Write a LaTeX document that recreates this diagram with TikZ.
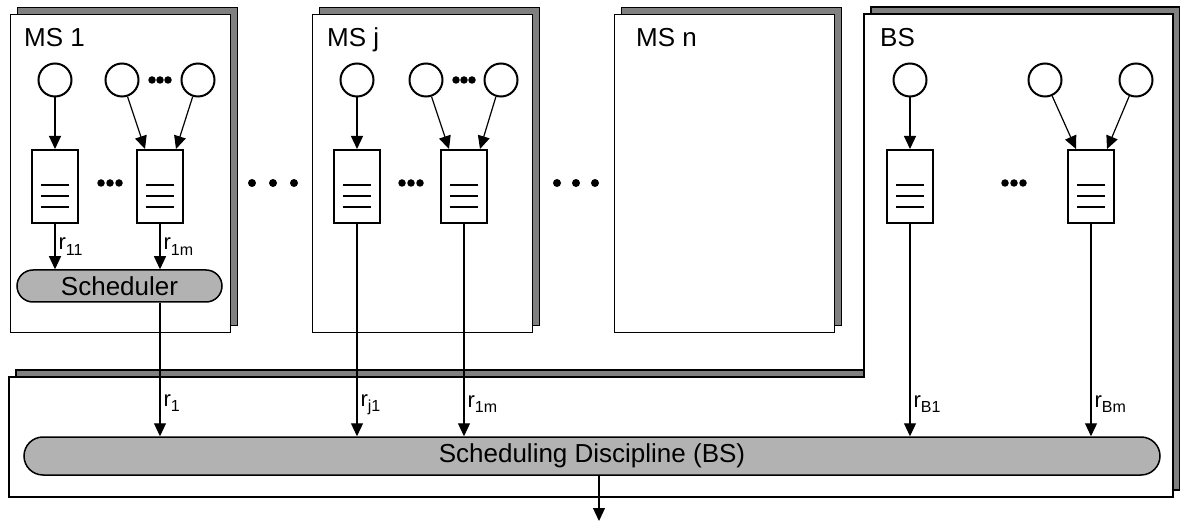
\documentclass[tikz,border=0pt]{standalone}
\usepackage{fontspec}
\setmainfont{Liberation Sans}
\usetikzlibrary{arrows.meta,shapes.misc,shadows}

\definecolor{shade}{gray}{0.5}
\definecolor{pillgray}{gray}{0.7}

% rate label with a lowered index
\newcommand\rlab[1]{r\raisebox{-0.45ex}{\fontsize{16}{16}\selectfont #1}}

\tikzset{
  >={Triangle[length=13pt,width=12pt]},
  frame/.style={draw,line width=1.3pt,fill=white,
    general shadow={shadow xshift=7pt,shadow yshift=7pt,fill=shade,draw=black,line width=1.3pt}},
  msbox/.style={frame,anchor=north west,minimum width=220pt,minimum height=318pt,inner sep=0pt},
  src/.style={circle,draw,line width=2pt,minimum size=33pt,inner sep=0pt},
  queue/.style={draw,line width=2pt,fill=white,minimum width=46pt,minimum height=73pt,inner sep=0pt,
    path picture={
      \foreach \dy in {1.5,-9.5,-20.5}
        \draw[line width=2pt] ([xshift=-14pt,yshift=\dy pt]path picture bounding box.center) -- ++(28,0);
    }},
  dot/.style={circle,fill,inner sep=0pt,minimum size=7.5pt},
  bigdot/.style={circle,fill,inner sep=0pt,minimum size=8pt},
  sched/.style={rounded rectangle,draw,line width=1.5pt,fill=pillgray,inner sep=0pt,
    font=\fontsize{26}{30}\selectfont},
  title/.style={anchor=base west,inner sep=0pt,font=\fontsize{26}{30}\selectfont},
  rate/.style={right,inner sep=3pt,font=\fontsize{22}{26}\selectfont},
  flow/.style={->,line width=1.2pt},
}

\begin{document}
\begin{tikzpicture}[x=1pt,y=-1pt]
  \useasboundingbox (0,0) rectangle (1180,526);

  % base station frame (column plus bottom strip)
  \draw[frame] (864,14) -- (1173,14) -- (1173,497) -- (9,497) -- (9,377) -- (864,377) -- cycle;

  % mobile stations
  \node[msbox] at (10,14)(ms1){};
  \node[msbox] at (312,14)(msj){};
  \node[msbox] at (614,14)(msn){};

  \node[title] at (24,47)(t1){MS 1};
  \node[title] at (327,47)(tj){MS j};
  \node[title] at (636,47)(tn){MS n};
  \node[title] at (880,47)(tb){BS};

  % MS 1
  \node[src] at (55,80)(s11){};
  \node[src] at (122,80)(s12){};
  \node[src] at (198,80)(s13){};
  \node[dot] at (152,80)(d11){};
  \node[dot] at (160,80)(d12){};
  \node[dot] at (168,80)(d13){};
  \node[queue] at (55,186.5)(q11){};
  \node[queue] at (160,186.5)(q12){};
  \node[dot] at (101,183)(e11){};
  \node[dot] at (110,183)(e12){};
  \node[dot] at (119,183)(e13){};
  \node[sched,minimum width=205pt,minimum height=32pt] at (119.5,286)(sch){Scheduler};

  % MS j
  \node[src] at (357,80)(s21){};
  \node[src] at (426,80)(s22){};
  \node[src] at (501,80)(s23){};
  \node[dot] at (456,80)(d21){};
  \node[dot] at (464,80)(d22){};
  \node[dot] at (472,80)(d23){};
  \node[queue] at (357,186.5)(q21){};
  \node[queue] at (464,186.5)(q22){};
  \node[dot] at (402,183)(e21){};
  \node[dot] at (411,183)(e22){};
  \node[dot] at (420,183)(e23){};

  % BS
  \node[src] at (910,80)(s31){};
  \node[src] at (1045,80)(s32){};
  \node[src] at (1136,80)(s33){};
  \node[queue] at (910,186.5)(q31){};
  \node[queue] at (1091,186.5)(q32){};
  \node[dot] at (1005,183)(e31){};
  \node[dot] at (1014,183)(e32){};
  \node[dot] at (1023,183)(e33){};

  % gaps between stations
  \node[bigdot] at (252,183)(g11){};
  \node[bigdot] at (273,183)(g12){};
  \node[bigdot] at (294,183)(g13){};
  \node[bigdot] at (557,183)(g21){};
  \node[bigdot] at (576,183)(g22){};
  \node[bigdot] at (595,183)(g23){};

  \node[sched,minimum width=1136pt,minimum height=38pt] at (592,456)(sd){Scheduling Discipline (BS)};
  \coordinate (out) at (599,521);

  \path[flow]
  (s11) edge (q11)
  (s12) edge ([xshift=-15pt]q12.north)
  (s13) edge ([xshift=16pt]q12.north)
  (s21) edge (q21)
  (s22) edge ([xshift=-15pt]q22.north)
  (s23) edge ([xshift=16pt]q22.north)
  (s31) edge (q31)
  (s32) edge ([xshift=-15pt]q32.north)
  (s33) edge ([xshift=16pt]q32.north)
  (q11) edge node[rate] {\rlab{11}} (q11 |- sch.north)
  (q12) edge node[rate] {\rlab{1m}} (q12 |- sch.north)
  (q12 |- sch.south) edge node[rate,pos=0.75] {\rlab{1}} (q12 |- sd.north)
  (q21) edge node[rate,pos=0.85] {\rlab{j1}} (q21 |- sd.north)
  (q22) edge node[rate,pos=0.85] {\rlab{1m}} (q22 |- sd.north)
  (q31) edge node[rate,pos=0.85] {\rlab{B1}} (q31 |- sd.north)
  (q32) edge node[rate,pos=0.85] {\rlab{Bm}} (q32 |- sd.north)
  (sd.south -| out) edge (out)
  ;
\end{tikzpicture}
\end{document}
